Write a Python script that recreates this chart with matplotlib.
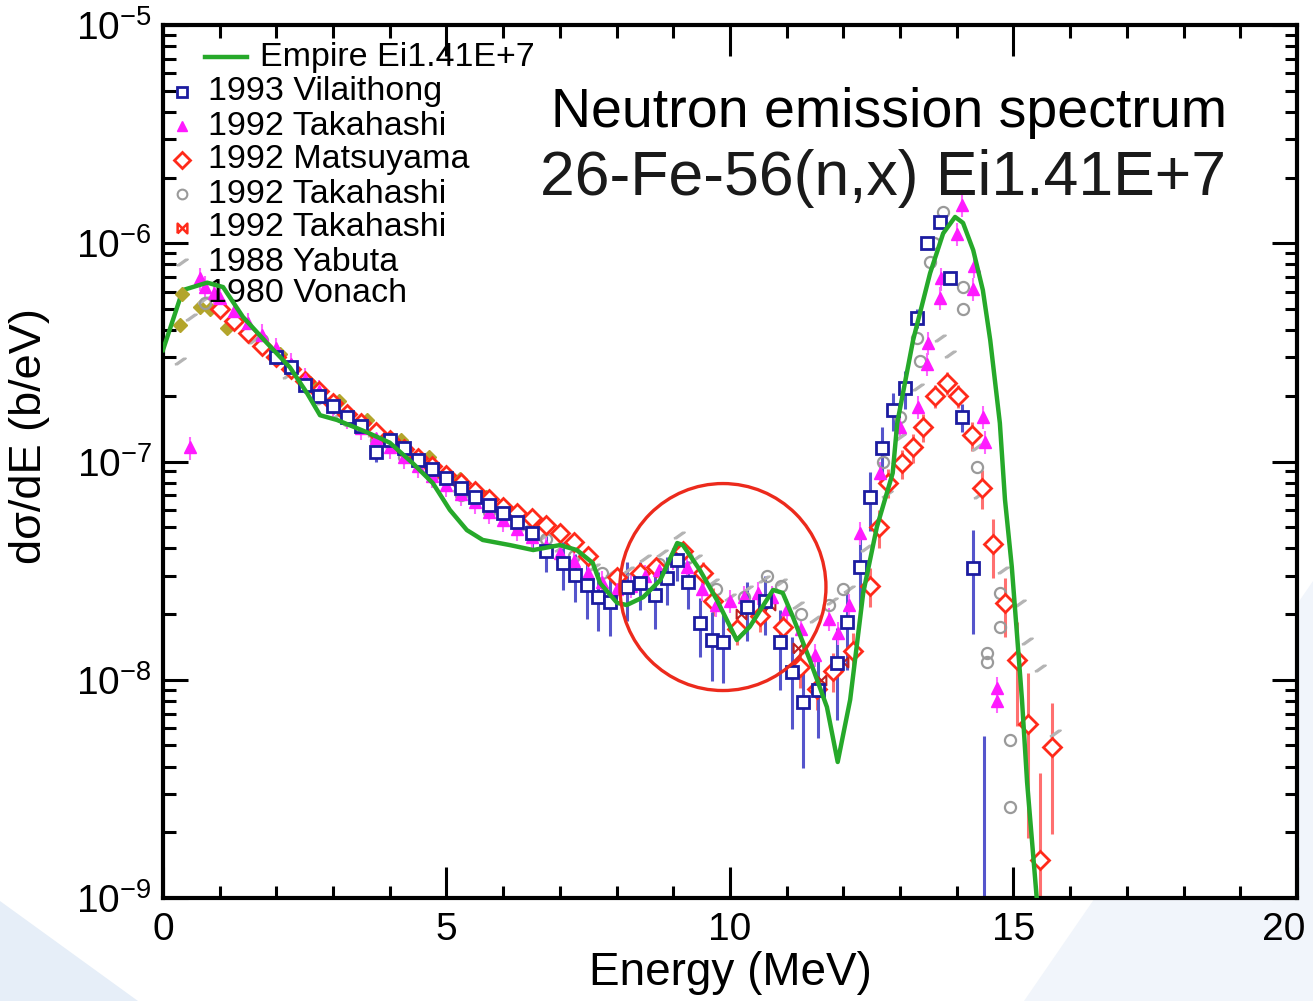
import numpy as np
import matplotlib.pyplot as plt
from matplotlib.patches import Ellipse, Polygon
from matplotlib.ticker import MultipleLocator, LogLocator, FuncFormatter, NullFormatter

plt.rcParams['font.family'] = ['Liberation Sans', 'DejaVu Sans']
plt.rcParams['mathtext.default'] = 'regular'

# ---- data (energy in MeV, dsigma/dE in b/eV) ----
empire_e = [0.00, 0.35, 0.78, 1.06, 1.41, 1.83, 2.24, 2.54, 2.77, 3.07, 3.60, 4.00, 4.41, 4.76,
            5.06, 5.36, 5.64, 6.12, 6.53, 7.00, 7.30, 7.58, 7.71, 8.01, 8.18, 8.47, 8.77, 9.07,
            9.17, 9.47, 9.77, 10.12, 10.35, 10.76, 10.93, 11.11, 11.41, 11.71, 11.90, 12.12,
            12.35, 12.59, 12.87, 12.95, 13.23, 13.53, 13.76, 13.97, 14.11, 14.29, 14.46, 14.59,
            14.76, 14.85, 14.97, 15.06, 15.15, 15.24, 15.34, 15.41]
empire_y = [3.24e-7, 6.1e-7, 6.6e-7, 6.3e-7, 4.6e-7, 3.5e-7, 2.7e-7, 2.06e-7, 1.63e-7, 1.55e-7,
            1.36e-7, 1.22e-7, 9.8e-8, 7.96e-8, 6.0e-8, 4.85e-8, 4.37e-8, 4.14e-8, 3.93e-8, 4.14e-8,
            3.93e-8, 3.43e-8, 2.77e-8, 2.25e-8, 2.20e-8, 2.39e-8, 2.86e-8, 4.23e-8, 4.14e-8,
            3.18e-8, 2.32e-8, 1.52e-8, 1.75e-8, 2.58e-8, 2.50e-8, 1.94e-8, 1.23e-8, 7.5e-9,
            4.2e-9, 8.1e-9, 2.5e-8, 5.0e-8, 8.85e-8, 1.5e-7, 3.6e-7, 7.3e-7, 1.11e-6, 1.32e-6,
            1.24e-6, 9.3e-7, 6.1e-7, 3.6e-7, 1.5e-7, 6.7e-8, 3.3e-8, 1.64e-8, 8.1e-9, 3.4e-9,
            1.66e-9, 1.0e-9]

vil_e = [2.00, 2.25, 2.50, 2.75, 3.00, 3.25, 3.50, 3.75, 4.00, 4.25, 4.50, 4.75, 5.00, 5.25,
         5.50, 5.75, 6.00, 6.25, 6.50, 6.75, 7.05, 7.27, 7.48, 7.67, 7.88, 8.18, 8.41, 8.68,
         8.89, 9.07, 9.26, 9.47, 9.68, 9.88, 10.30, 10.62, 10.88, 11.09, 11.29, 11.55, 11.89,
         12.06, 12.29, 12.47, 12.68, 12.87, 13.09, 13.30, 13.47, 13.70, 13.88, 14.09, 14.29, 14.48]
vil_y = [3.0e-7, 2.7e-7, 2.25e-7, 2.0e-7, 1.8e-7, 1.6e-7, 1.45e-7, 1.1e-7, 1.25e-7, 1.15e-7,
         1.02e-7, 9.2e-8, 8.4e-8, 7.6e-8, 6.9e-8, 6.3e-8, 5.8e-8, 5.3e-8, 4.7e-8, 3.9e-8,
         3.43e-8, 3.02e-8, 2.72e-8, 2.39e-8, 2.27e-8, 2.66e-8, 2.77e-8, 2.44e-8, 2.92e-8,
         3.54e-8, 2.81e-8, 1.82e-8, 1.52e-8, 1.49e-8, 2.15e-8, 2.3e-8, 1.49e-8, 1.08e-8,
         7.9e-9, 9.0e-9, 1.19e-8, 1.84e-8, 3.29e-8, 6.87e-8, 1.15e-7, 1.72e-7, 2.17e-7,
         4.55e-7, 1.0e-6, 1.25e-6, 6.9e-7, 1.6e-7, 3.25e-8, 5.0e-10]
vil_err = [.08, .08, .08, .08, .08, .08, .08, .1, .08, .08, .08, .08, .1, .1, .1, .1, .12, .12,
           .15, .2, .25, .25, .3, .3, .3, .3, .25, .3, .25, .2, .25, .3, .35, .35, .3, .3, .4,
           .45, .5, .4, .45, .4, .35, .3, .25, .2, .2, .1, .05, .05, .05, .15, .5, 10.0]

tak_e = [0.48, 0.65, 0.75, 0.90, 1.00, 1.25, 1.50, 1.75, 2.00, 2.25, 2.50, 2.75, 3.00, 3.25,
         3.50, 3.75, 4.00, 4.25, 4.50, 4.75, 5.00, 5.25, 5.50, 5.75, 6.00, 6.25, 6.50, 6.75,
         7.00, 7.25, 7.50, 7.75, 8.00, 8.25, 8.50, 8.75, 9.00, 9.25, 9.50, 9.75, 10.00, 10.25,
         10.50, 10.75, 11.00, 11.25, 11.50, 11.75, 11.90, 12.10, 12.30, 12.65, 13.00, 13.32,
         13.47, 13.50, 13.70, 13.72, 14.00, 14.09, 14.30, 14.28, 14.46, 14.50, 14.71, 14.71]
tak_y = [1.16e-7, 6.9e-7, 6.3e-7, 5.9e-7, 5.6e-7, 4.9e-7, 4.3e-7, 3.8e-7, 3.3e-7, 2.8e-7,
         2.4e-7, 2.1e-7, 1.8e-7, 1.6e-7, 1.42e-7, 1.28e-7, 1.17e-7, 1.05e-7, 9.5e-8, 8.6e-8,
         7.8e-8, 7.1e-8, 6.5e-8, 5.9e-8, 5.4e-8, 4.9e-8, 4.5e-8, 4.1e-8, 3.8e-8, 3.5e-8,
         3.1e-8, 2.8e-8, 2.6e-8, 2.7e-8, 3.0e-8, 3.2e-8, 3.6e-8, 3.3e-8, 2.6e-8, 2.2e-8,
         2.3e-8, 2.4e-8, 2.5e-8, 2.4e-8, 2.1e-8, 1.7e-8, 1.3e-8, 1.9e-8, 1.64e-8, 2.2e-8,
         4.7e-8, 8.9e-8, 1.44e-7, 1.78e-7, 2.8e-7, 3.5e-7, 5.6e-7, 6.9e-7, 1.1e-6, 1.5e-6,
         7.9e-7, 6.2e-7, 1.6e-7, 1.23e-7, 9.2e-9, 8.0e-9]

mat_e = [1.00, 1.25, 1.50, 1.75, 2.00, 2.25, 2.50, 2.75, 3.00, 3.25, 3.50, 3.75, 4.00, 4.25,
         4.50, 4.75, 5.00, 5.25, 5.50, 5.75, 6.00, 6.25, 6.50, 6.75, 7.00, 7.25, 7.50, 8.00,
         8.41, 8.70, 9.17, 9.52, 9.70, 10.12, 10.53, 10.93, 11.23, 11.53, 11.82, 12.17, 12.47,
         12.62, 12.79, 13.03, 13.23, 13.40, 13.62, 13.83, 14.02, 14.27, 14.44, 14.64, 14.85,
         15.06, 15.26, 15.47, 15.68]
mat_y = [5.0e-7, 4.4e-7, 3.9e-7, 3.4e-7, 3.0e-7, 2.65e-7, 2.35e-7, 2.1e-7, 1.85e-7, 1.65e-7,
         1.5e-7, 1.37e-7, 1.25e-7, 1.14e-7, 1.04e-7, 9.5e-8, 8.7e-8, 8.0e-8, 7.3e-8, 6.7e-8,
         6.2e-8, 5.8e-8, 5.5e-8, 5.1e-8, 4.7e-8, 4.3e-8, 3.7e-8, 2.95e-8, 3.1e-8, 3.3e-8,
         3.9e-8, 3.1e-8, 2.3e-8, 1.7e-8, 1.95e-8, 1.75e-8, 1.15e-8, 9.1e-9, 1.1e-8, 1.36e-8,
         2.7e-8, 5.0e-8, 8.0e-8, 9.8e-8, 1.16e-7, 1.44e-7, 2.0e-7, 2.3e-7, 2.0e-7, 1.32e-7,
         7.6e-8, 4.2e-8, 2.25e-8, 1.23e-8, 6.3e-9, 1.5e-9, 4.9e-9]
mat_err = [.05] * 27 + [.1, .1, .1, .1, .12, .15, .15, .15, .15, .2, .2, .2, .2, .2, .2, .15,
                        .15, .15, .15, .12, .12, .12, .15, .2, .3, .3, .5, .7, 1.5, .6]

takc_e = [0.75, 1.25, 1.75, 2.25, 2.75, 3.25, 3.75, 4.25, 4.75, 5.25, 5.75, 6.25, 6.75, 7.25,
          7.75, 8.25, 8.75, 9.25, 9.75, 10.25, 10.65, 10.90, 11.25, 11.75, 12.00, 12.30, 12.70,
          13.00, 13.30, 13.35, 13.53, 13.60, 13.76, 14.11, 14.11, 14.36, 14.53, 14.53, 14.76,
          14.76, 14.94, 14.94]
takc_y = [5.3e-7, 4.5e-7, 3.6e-7, 2.7e-7, 2.0e-7, 1.55e-7, 1.25e-7, 1.05e-7, 8.6e-8, 7.0e-8,
          5.9e-8, 5.1e-8, 4.4e-8, 3.7e-8, 3.1e-8, 2.9e-8, 3.4e-8, 3.6e-8, 2.6e-8, 2.4e-8,
          3.0e-8, 2.7e-8, 2.0e-8, 2.2e-8, 2.6e-8, 3.3e-8, 1.0e-7, 1.6e-7, 3.7e-7, 2.9e-7,
          8.2e-7, 1.0e-6, 1.39e-6, 6.3e-7, 5.0e-7, 9.4e-8, 1.33e-8, 1.2e-8, 2.5e-8, 1.75e-8,
          5.3e-9, 2.6e-9]

takx_e = [10.2, 10.7, 11.2, 11.6, 12.0]
takx_y = [2.0e-8, 2.2e-8, 1.4e-8, 1.0e-8, 1.2e-8]

yab_e = [0.3, 0.5, 0.7, 1.0, 1.3, 1.6, 1.9, 2.2, 2.5, 2.8, 3.1, 3.4, 3.7, 4.0, 4.3, 4.6, 4.9,
         5.2, 5.5, 5.8, 6.1, 6.4, 6.7, 7.0, 7.3, 7.6, 7.9, 8.2, 8.5, 8.8, 9.1, 9.4, 9.7, 10.0,
         10.3, 10.6, 10.9, 11.2, 11.5, 11.8, 12.1, 12.4, 12.77, 13.0, 13.32, 13.7, 13.88,
         14.36, 14.4, 14.82, 15.11, 15.24, 15.47, 15.73]
yab_y = [2.9e-7, 4.6e-7, 5.5e-7, 5.0e-7, 4.2e-7, 3.6e-7, 3.1e-7, 2.5e-7, 2.2e-7, 1.9e-7,
         1.65e-7, 1.5e-7, 1.35e-7, 1.2e-7, 1.08e-7, 9.8e-8, 8.7e-8, 7.6e-8, 6.8e-8, 6.1e-8,
         5.5e-8, 5.0e-8, 4.5e-8, 4.0e-8, 3.6e-8, 3.3e-8, 3.1e-8, 3.2e-8, 3.6e-8, 3.8e-8,
         4.6e-8, 3.6e-8, 2.8e-8, 2.4e-8, 2.6e-8, 2.9e-8, 2.8e-8, 2.2e-8, 1.9e-8, 2.3e-8,
         2.6e-8, 4.0e-8, 7.1e-8, 1.3e-7, 2.2e-7, 3.7e-7, 3.1e-7, 1.17e-7, 7.0e-8, 3.2e-8,
         2.25e-8, 1.5e-8, 1.13e-8, 5.7e-9]

von_e = [0.30, 0.65, 0.83, 1.13, 1.50, 2.06, 2.60, 3.10, 3.60, 4.20, 4.70, 5.24, 5.70]
von_y = [4.2e-7, 5.1e-7, 5.0e-7, 4.1e-7, 3.8e-7, 3.1e-7, 2.3e-7, 1.9e-7, 1.55e-7, 1.25e-7,
         1.05e-7, 8.3e-8, 6.9e-8]

legend_labels = ['Empire Ei1.41E+7', '1993 Vilaithong', '1992 Takahashi', '1992 Matsuyama',
                 '1992 Takahashi', '1992 Takahashi', '1988 Yabuta', '1980 Vonach']

# ---- styles ----
green = '#26a92a'
blue = '#1c1ca0'
magenta = '#ff1aff'
red = '#ff2a1a'
grey = '#9a9a9a'
olive = '#b3a52b'
bowtie = [(-1, -1), (-1, 1), (1, -1), (1, 1), (-1, -1)]
slash = [(-1, -0.55), (-0.55, -0.55), (1, 0.55), (0.55, 0.55), (-1, -0.55)]

fig = plt.figure(figsize=(13.13, 10.01), dpi=100)

# faint slide background swooshes (behind the axes)
fig.patches.append(Polygon([(0, 0.10), (0, 0), (0.105, 0)], closed=True,
                           transform=fig.transFigure, facecolor='#e6eef8', edgecolor='none', zorder=-2))
fig.patches.append(Polygon([(1, 0.42), (1, 0), (0.78, 0)], closed=True,
                           transform=fig.transFigure, facecolor='#f1f5fb', edgecolor='none', zorder=-2))

ax = fig.add_axes([0.1241, 0.1029, 0.8637, 0.8721])
ax.set_zorder(1)


def yerrs(y, rel):
    y = np.asarray(y)
    rel = np.asarray(rel)
    return [y * np.minimum(rel, 0.9), y * rel]


# error bars
ax.errorbar(mat_e, mat_y, yerr=yerrs(mat_y, mat_err), fmt='none', ecolor='#ff7070',
            elinewidth=2.2, capsize=0, zorder=2)
ax.errorbar(vil_e, vil_y, yerr=yerrs(vil_y, vil_err), fmt='none', ecolor='#5555cc',
            elinewidth=2.2, capsize=0, zorder=2)
ax.errorbar(tak_e, tak_y, yerr=yerrs(tak_y, [0.12] * len(tak_y)), fmt='none', ecolor='#ff66ff',
            elinewidth=1.5, capsize=0, zorder=2)

# data points
ax.plot(von_e, von_y, ls='none', marker='D', ms=7, color=olive, mec=olive, zorder=3)
ax.plot(yab_e, yab_y, ls='none', marker=slash, ms=8, mfc='none', mec='#b4b4b4', mew=1.3, zorder=3)
ax.plot(takc_e, takc_y, ls='none', marker='o', ms=8, mfc='none', mec=grey, mew=1.6, zorder=3)
ax.plot(takx_e, takx_y, ls='none', marker=bowtie, ms=7, mfc='none', mec='#c02020', mew=1.5, zorder=3)
ax.plot(mat_e, mat_y, ls='none', marker='D', ms=9, mfc='white', mec=red, mew=2.0, zorder=4)
ax.plot(tak_e, tak_y, ls='none', marker='^', ms=8, color=magenta, mec=magenta, zorder=4)
ax.plot(vil_e, vil_y, ls='none', marker='s', ms=8, mfc='white', mec=blue, mew=2.0, zorder=5)

ax.plot(empire_e, empire_y, color=green, lw=3.2, zorder=6)

# red circle highlight
ax.add_patch(Ellipse((0.4938, 0.3562), 0.1817, 0.2371, transform=ax.transAxes,
                     fill=False, edgecolor='#ec2a1c', lw=2.4, zorder=7))

# manual legend
rows = [0.9633, 0.9233, 0.8843, 0.8454, 0.8064, 0.7675, 0.7285, 0.6919]
ax.plot([0.037, 0.074], [rows[0], rows[0]], color=green, lw=3.2, transform=ax.transAxes, zorder=8)
ax.text(0.0855, rows[0], legend_labels[0], transform=ax.transAxes, fontsize=24.5, va='center', zorder=8)
leg_styles = [dict(marker='s', ms=7, mfc='white', mec=blue, mew=2.0),
              dict(marker='^', ms=7, color=magenta, mec=magenta),
              dict(marker='D', ms=8, mfc='white', mec=red, mew=2.0),
              dict(marker='o', ms=7, mfc='none', mec=grey, mew=1.5),
              dict(marker=bowtie, ms=7, mfc='none', mec=red, mew=1.8),
              dict(marker=slash, ms=8, mfc='none', mec='#b4b4b4', mew=1.3),
              dict(marker='D', ms=7, color=olive, mec=olive)]
for i, st in enumerate(leg_styles):
    ax.plot([0.0168], [rows[i + 1]], ls='none', transform=ax.transAxes, zorder=8, **st)
    ax.text(0.0397, rows[i + 1], legend_labels[i + 1], transform=ax.transAxes, fontsize=24.5,
            va='center', zorder=5)

# axes formatting
ax.set_xlim(0, 20)
ax.set_yscale('log')
ax.set_ylim(1e-9, 1e-5)
ax.xaxis.set_major_locator(MultipleLocator(5))
ax.xaxis.set_minor_locator(MultipleLocator(1))
# the "20" label is drawn separately, a little left of its tick as in the original
ax.xaxis.set_major_formatter(FuncFormatter(lambda v, p: '' if v >= 20 else '%d' % v))
ax.yaxis.set_major_locator(LogLocator(base=10, numticks=10))
ax.yaxis.set_minor_locator(LogLocator(base=10, subs=np.arange(2, 10), numticks=20))
ax.yaxis.set_minor_formatter(NullFormatter())
ax.yaxis.set_major_formatter(FuncFormatter(lambda v, p: r'$10^{%d}$' % round(np.log10(v))))

ax.tick_params(which='both', direction='in', top=True, right=True, labelsize=28, width=2.2)
ax.tick_params(axis='x', which='major', length=22, pad=10)
ax.tick_params(axis='y', which='major', length=18, pad=8)
ax.tick_params(which='minor', length=9)
for s in ax.spines.values():
    s.set_linewidth(3)

ax.annotate('20', xy=(1, 0), xycoords='axes fraction', xytext=(-9.5, -10),
            textcoords='offset points', ha='center', va='top', fontsize=28)

ax.set_xlabel('Energy (MeV)', fontsize=33)
ax.set_ylabel('dσ/dE (b/eV)', fontsize=32.5)
ax.xaxis.set_label_coords(0.5, -0.061)
ax.yaxis.set_label_coords(-0.0996, 0.529)

fig.text(0.9345, 0.873, 'Neutron emission spectrum', fontsize=40, ha='right', va='baseline', zorder=5)
fig.text(0.9335, 0.805, '26-Fe-56(n,x) Ei1.41E+7', fontsize=45, ha='right', va='baseline',
         color='#1a1a1a', zorder=5)

fig.savefig('out.png', dpi=100)
